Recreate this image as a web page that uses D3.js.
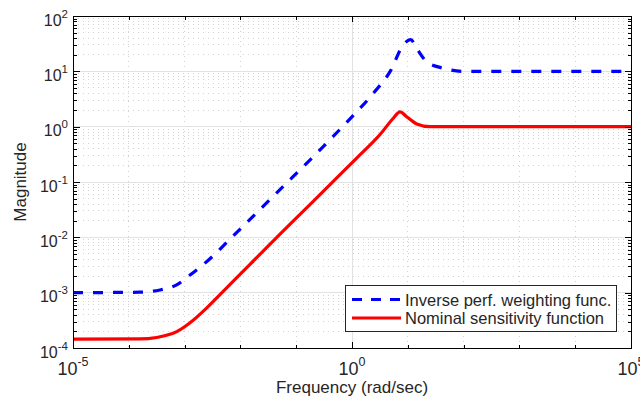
<!DOCTYPE html>
<html>
<head>
<meta charset="utf-8">
<title>Sensitivity and weighting</title>
<script src="https://cdnjs.cloudflare.com/ajax/libs/d3/7.8.5/d3.min.js"></script>
<style>
body { margin: 0; background: #fff; }
text { font-family: "Liberation Sans", Arial, sans-serif; fill: #262626; }
</style>
</head>
<body>
<script>
// values (rad/sec, magnitude)
var weightFreq = [1e-5, 1.58e-4, 3.62e-4, 7.21e-4, 1.25e-3, 2.85e-3, 6.52e-3, 0.01486, 0.0389, 0.0887, 0.267, 0.804, 2.41, 4.80, 8.30, 11.27, 14.42, 21.8, 43.3, 98.9, 1e5];
var weightMag  = [1.0e-3, 1.02e-3, 1.12e-3, 1.38e-3, 2.08e-3, 4.1e-3, 9.3e-3, 0.0211, 0.0553, 0.126, 0.38, 1.2, 4.01, 9.86, 29.9, 37.5, 26.1, 14.9, 11.35, 10, 10];

var sensFreq = [1e-5, 1.58e-4, 6.27e-4, 1.25e-3, 2.5e-3, 4.31e-3, 0.01486, 0.0513, 0.117, 0.4036, 1.213, 3.177, 5.50, 7.24, 9.55, 14.45, 25.1, 1e5];
var sensMag  = [1.45e-4, 1.46e-4, 1.85e-4, 2.85e-4, 5.3e-4, 9.2e-4, 3.25e-3, 0.0114, 0.026, 0.0895, 0.27, 0.72, 1.42, 1.85, 1.51, 1.12, 1.0, 1.0];

var xTickExps = [-5, 0, 5];
var yTickExps = [-4, -3, -2, -1, 0, 1, 2];
var legendLabels = ["Inverse perf. weighting func.", "Nominal sensitivity function"];

var svgwidth = 640,
    svgheight = 401,
    margin = {top: 16, right: 9, bottom: 53, left: 73},
    width = svgwidth - margin.left - margin.right,
    height = svgheight - margin.top - margin.bottom;

var svg = d3.select("body").append("svg")
    .attr("width", svgwidth)
    .attr("height", svgheight);

var g = svg.append("g")
    .attr("transform", "translate(" + margin.left + "," + margin.top + ")");

//log scales on both axes
var x = d3.scaleLog().domain([1e-5, 1e5]).range([0, width]),
    y = d3.scaleLog().domain([1e-4, 1e2]).range([height, 0]);

//tick positions: decades plus 2..9 steps on y, every decade on x
var yMajor = yTickExps.map(function(e) { return Math.pow(10, e); });
var yMinor = [];
for (var e = -4; e < 2; e++) {
  for (var k = 2; k < 10; k++) yMinor.push(k * Math.pow(10, e));
}
var xMajor = xTickExps.map(function(e) { return Math.pow(10, e); });
var xMinor = [];
for (var e = -4; e < 5; e++) {
  if (e !== 0) xMinor.push(Math.pow(10, e));
}

//grid: dotted minor, solid major
var grid = g.append("g").attr("shape-rendering", "crispEdges");
grid.selectAll(".hminor").data(yMinor).enter().append("line")
    .attr("x1", 0).attr("x2", width)
    .attr("y1", function(d) { return y(d); }).attr("y2", function(d) { return y(d); })
    .attr("stroke", "#d2d2d2").attr("stroke-dasharray", "1,4");
grid.selectAll(".vminor").data(xMinor).enter().append("line")
    .attr("y1", 0).attr("y2", height)
    .attr("x1", function(d) { return x(d); }).attr("x2", function(d) { return x(d); })
    .attr("stroke", "#d2d2d2").attr("stroke-dasharray", "1,4");
grid.selectAll(".hmajor").data(yMajor).enter().append("line")
    .attr("x1", 0).attr("x2", width)
    .attr("y1", function(d) { return y(d); }).attr("y2", function(d) { return y(d); })
    .attr("stroke", "#e2e2e2");
grid.selectAll(".vmajor").data(xMajor).enter().append("line")
    .attr("y1", 0).attr("y2", height)
    .attr("x1", function(d) { return x(d); }).attr("x2", function(d) { return x(d); })
    .attr("stroke", "#e2e2e2");

//clip the curves to the axes box
svg.append("defs").append("clipPath").attr("id", "plotclip")
  .append("rect").attr("width", width).attr("height", height);

var line = d3.line()
    .x(function(d) { return x(d[0]); })
    .y(function(d) { return y(d[1]); })
    .curve(d3.curveMonotoneX);

var curves = g.append("g").attr("clip-path", "url(#plotclip)");

curves.append("path")
    .datum(d3.zip(sensFreq, sensMag))
    .attr("d", line)
    .attr("fill", "none")
    .attr("stroke", "#ff0000")
    .attr("stroke-width", 3.2);

curves.append("path")
    .datum(d3.zip(weightFreq, weightMag))
    .attr("d", line)
    .attr("fill", "none")
    .attr("stroke", "#0000ff")
    .attr("stroke-width", 3.2)
    .attr("stroke-dasharray", "10,10");

//ticks on all four sides, pointing inward
var axes = g.append("g").attr("shape-rendering", "crispEdges");
function addAxis(axis, tr) {
  var a = axes.append("g").attr("transform", tr).call(axis);
  a.select(".domain").remove();
  a.selectAll("text").remove();
  a.selectAll("line").attr("stroke", "#000");
}
addAxis(d3.axisLeft(y).tickValues(yMajor).tickSize(-6.5), "");
addAxis(d3.axisLeft(y).tickValues(yMinor).tickSize(-3.5), "");
addAxis(d3.axisRight(y).tickValues(yMajor).tickSize(-6.5), "translate(" + width + ",0)");
addAxis(d3.axisRight(y).tickValues(yMinor).tickSize(-3.5), "translate(" + width + ",0)");
addAxis(d3.axisBottom(x).tickValues(xMajor).tickSize(-6), "translate(0," + height + ")");
addAxis(d3.axisBottom(x).tickValues(xMinor).tickSize(-3.5), "translate(0," + height + ")");
addAxis(d3.axisTop(x).tickValues(xMajor).tickSize(-6), "");
addAxis(d3.axisTop(x).tickValues(xMinor).tickSize(-3.5), "");

axes.append("rect")
    .attr("width", width).attr("height", height)
    .attr("fill", "none").attr("stroke", "#000");

//tick labels as 10 with a superscript exponent
g.selectAll(".ylab").data(yTickExps).enter().append("text")
    .attr("x", -5)
    .attr("y", function(d) { return y(Math.pow(10, d)) + 9.5; })
    .attr("text-anchor", "end")
    .style("font-size", "16px")
    .each(function(d) {
      var t = d3.select(this);
      t.append("tspan").text("10");
      t.append("tspan").attr("dy", -8).style("font-size", "11.5px").text(d);
    });

g.selectAll(".xlab").data(xTickExps).enter().append("text")
    .attr("x", function(d) { return x(Math.pow(10, d)); })
    .attr("y", height + 27)
    .attr("text-anchor", "middle")
    .style("font-size", "18px")
    .each(function(d) {
      var t = d3.select(this);
      t.append("tspan").text("10");
      t.append("tspan").attr("dy", -9).style("font-size", "12.5px").text(d);
    });

//axis titles
g.append("text")
    .attr("x", width / 2)
    .attr("y", height + 45)
    .attr("text-anchor", "middle")
    .style("font-size", "17px")
    .text("Frequency (rad/sec)");

g.append("text")
    .attr("transform", "translate(-47," + (height / 2) + ") rotate(-90)")
    .attr("text-anchor", "middle")
    .style("font-size", "17px")
    .text("Magnitude");

//legend box in the lower right
var legend = g.append("g")
    .attr("transform", "translate(" + (width - 286) + "," + (height - 63) + ")");

legend.append("rect")
    .attr("width", 271).attr("height", 46)
    .attr("fill", "#fff").attr("stroke", "#262626")
    .attr("shape-rendering", "crispEdges");

var legendStyles = [{color: "#0000ff", dash: "10,9"}, {color: "#ff0000", dash: null}];

legend.selectAll(".item").data(legendLabels).enter().append("g")
    .attr("transform", function(d, i) { return "translate(0," + (14.5 + i * 18.5) + ")"; })
    .each(function(d, i) {
      var it = d3.select(this);
      it.append("line")
          .attr("x1", 7).attr("x2", 56)
          .attr("stroke", legendStyles[i].color)
          .attr("stroke-width", 3)
          .attr("stroke-dasharray", legendStyles[i].dash);
      it.append("text")
          .attr("x", 60).attr("y", 6)
          .style("font-size", "16.5px")
          .text(d);
    });
</script>
</body>
</html>
